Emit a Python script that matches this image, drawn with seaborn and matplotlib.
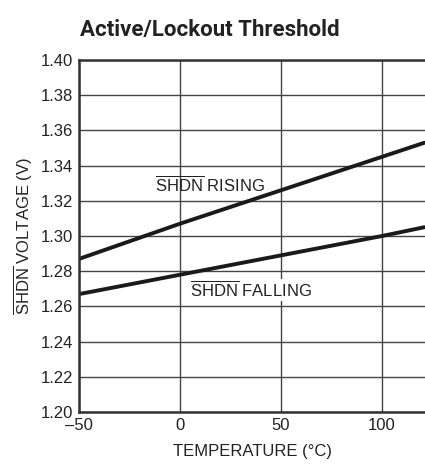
import numpy as np
import pandas as pd
import matplotlib
matplotlib.use("Agg")
import matplotlib.pyplot as plt
import seaborn as sns

temperature = [-50, 0, 50, 100, 121]
rising_v = [1.287, 1.307, 1.326, 1.345, 1.353]
falling_v = [1.267, 1.278, 1.289, 1.300, 1.305]

x_ticks = [-50, 0, 50, 100]
y_ticks = [1.20, 1.22, 1.24, 1.26, 1.28, 1.30, 1.32, 1.34, 1.36, 1.38, 1.40]

sns.set_theme(style="white")
font = ["Liberation Sans", "DejaVu Sans"]
plt.rcParams["font.family"] = font
plt.rcParams["mathtext.fontset"] = "custom"
plt.rcParams["mathtext.rm"] = "Liberation Sans"

df = pd.DataFrame({
    "temp": temperature * 2,
    "volt": rising_v + falling_v,
    "curve": ["rising"] * len(temperature) + ["falling"] * len(temperature),
})

fig = plt.figure(figsize=(4.25, 4.7), dpi=100)
ax = fig.add_axes([0.186, 0.1234, 0.814, 0.7489])

sns.lineplot(data=df, x="temp", y="volt", units="curve", estimator=None,
             color="#1a1a1a", linewidth=2.8, ax=ax, legend=False)

ax.set_xlim(-50, 121.3)
ax.set_ylim(1.20, 1.40)
ax.set_xticks(x_ticks)
ax.set_xticklabels(["\u201350", "0", "50", "100"])
ax.set_yticks(y_ticks)
ax.set_yticklabels([f"{v:.2f}" for v in y_ticks])
ax.tick_params(length=0, labelsize=12, colors="#222222", pad=4)
ax.grid(True, color="#444444", linewidth=1.0)

for side in ["top", "left", "bottom"]:
    ax.spines[side].set_color("#333333")
    ax.spines[side].set_linewidth(1.8)
ax.spines["right"].set_visible(False)

ax.set_xlabel("TEMPERATURE (\u00b0C)", fontsize=12, color="#222222", labelpad=8)
ax.set_ylabel(r"$\overline{\mathrm{SHDN}}$ VOLTAGE (V)", fontsize=12,
              color="#222222", labelpad=4)

ax.text(-12.4, 1.329, r"$\overline{\mathrm{SHDN}}$ RISING", fontsize=12,
        color="#222222", va="center", ha="left")
ax.text(5, 1.2693, r"$\overline{\mathrm{SHDN}}$ FALLING", fontsize=12,
        color="#222222", va="center", ha="left",
        bbox=dict(facecolor="white", edgecolor="none", pad=1))

fig.text(0.188, 0.937, "Active/Lockout Threshold", fontsize=16,
         fontweight="bold", color="#222222", ha="left", va="center",
         family=["Roboto", "DejaVu Sans"], fontstretch="condensed")

fig.savefig("out.png", dpi=100)
